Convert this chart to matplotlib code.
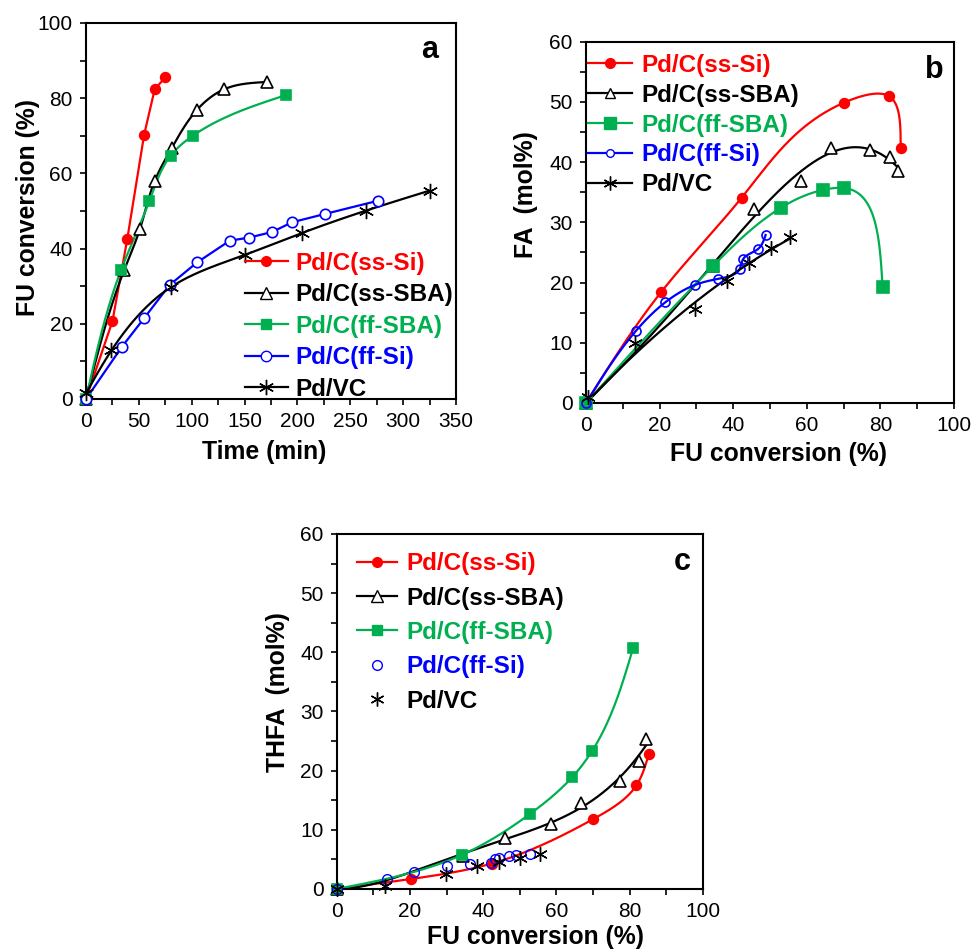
import numpy as np
import matplotlib.pyplot as plt
from matplotlib.lines import Line2D
from matplotlib.ticker import MultipleLocator

plt.rcParams['font.family'] = ['Liberation Sans', 'DejaVu Sans']

RED = '#ff0000'
BLACK = '#000000'
GREEN = '#00b050'
BLUE = '#0000ff'

labels = ['Pd/C(ss-Si)', 'Pd/C(ss-SBA)', 'Pd/C(ff-SBA)', 'Pd/C(ff-Si)', 'Pd/VC']

# (a) FU conversion (%) vs time (min)
a_ssSi_t = [0, 25, 39, 55, 65, 75]
a_ssSi_y = [0, 20.7, 42.5, 70.3, 82.4, 85.5]
a_ssSBA_t = [0, 36, 51, 65, 81, 105, 131, 171]
a_ssSBA_y = [0, 34.2, 45.2, 58.0, 66.7, 76.9, 82.4, 84.3]
a_ffSBA_t = [0, 33, 60, 80, 101, 189]
a_ffSBA_y = [0, 34.2, 52.7, 64.7, 70.0, 80.8]
a_ffSi_t = [0, 34, 55, 79, 105, 136, 154, 176, 195, 226, 276]
a_ffSi_y = [0, 13.9, 21.5, 30.3, 36.3, 42.1, 42.9, 44.4, 47.0, 49.2, 52.7]
a_vc_t = [0, 24, 80, 150, 204, 265, 325]
a_vc_y = [1.5, 12.9, 29.7, 38.3, 44.1, 50.1, 55.4]

# (b) FA (mol%) vs FU conversion (%)
b_ssSi_x = [0, 20.4, 42.3, 70.2, 82.2, 85.5]
b_ssSi_y = [0, 18.4, 34.1, 49.9, 51.0, 42.4]
b_ssSBA_x = [0, 34.6, 45.7, 58.4, 66.6, 77.2, 82.6, 84.9]
b_ssSBA_y = [0, 22.7, 32.2, 36.9, 42.4, 42.0, 40.8, 38.6]
b_ffSBA_x = [0, 34.6, 52.9, 64.5, 70.2, 80.6]
b_ffSBA_y = [0, 22.8, 32.4, 35.4, 35.7, 19.2]
b_ffSi_x = [0, 13.6, 21.5, 29.6, 35.8, 41.8, 42.7, 46.8, 48.8]
b_ffSi_y = [0, 12.0, 16.7, 19.6, 20.6, 22.3, 23.9, 25.6, 27.9]
b_vc_x = [0.5, 13.3, 29.6, 38.2, 44.4, 50.3, 55.4]
b_vc_y = [1.0, 9.9, 15.6, 20.3, 23.2, 25.7, 27.5]

# (c) THFA (mol%) vs FU conversion (%)
c_ssSi_x = [0, 20.4, 42.3, 70.0, 81.8, 85.2]
c_ssSi_y = [0, 1.7, 4.3, 11.8, 17.5, 22.8]
c_ssSBA_x = [0, 34.4, 45.9, 58.4, 66.8, 77.3, 82.5, 84.5]
c_ssSBA_y = [0, 5.5, 8.7, 11.0, 14.5, 18.3, 21.6, 25.4]
c_ffSBA_x = [0, 34.3, 52.8, 64.3, 69.8, 80.9]
c_ffSBA_y = [0, 5.8, 12.7, 18.9, 23.4, 40.7]
c_ffSi_x = [0, 13.8, 21.2, 30.0, 36.4, 42.0, 43.2, 44.4, 47.0, 48.9, 52.8]
c_ffSi_y = [0, 1.7, 2.9, 3.8, 4.2, 4.4, 5.0, 5.2, 5.5, 5.7, 5.9]
c_vc_x = [0, 13.2, 29.8, 38.2, 44.4, 50.0, 55.5]
c_vc_y = [0, 0.5, 2.6, 3.8, 4.6, 5.3, 5.9]


def natural_spline(t, v, tt):
    n = len(t)
    h = np.diff(t)
    A = np.zeros((n, n))
    r = np.zeros(n)
    A[0, 0] = A[-1, -1] = 1
    for i in range(1, n - 1):
        A[i, i - 1] = h[i - 1]
        A[i, i] = 2 * (h[i - 1] + h[i])
        A[i, i + 1] = h[i]
        r[i] = 6 * ((v[i + 1] - v[i]) / h[i] - (v[i] - v[i - 1]) / h[i - 1])
    M = np.linalg.solve(A, r)
    k = np.clip(np.searchsorted(t, tt) - 1, 0, n - 2)
    hk = h[k]
    a = t[k + 1] - tt
    b = tt - t[k]
    return ((M[k] * a ** 3 + M[k + 1] * b ** 3) / (6 * hk)
            + (v[k] / hk - M[k] * hk / 6) * a
            + (v[k + 1] / hk - M[k + 1] * hk / 6) * b)


def spline_curve(x, y, xr, yr, n=400):
    x = np.asarray(x, float)
    y = np.asarray(y, float)
    t = np.concatenate([[0], np.cumsum(np.hypot(np.diff(x) / xr, np.diff(y) / yr))])
    tt = np.linspace(0, t[-1], n)
    return natural_spline(t, x, tt), natural_spline(t, y, tt)


def fit_curve(x, y, powers, n=300):
    # least-squares polynomial through the origin, using the given powers
    x = np.asarray(x, float)
    s = x.max()
    X = np.column_stack([(x / s) ** p for p in powers])
    coef = np.linalg.lstsq(X, np.asarray(y, float), rcond=None)[0]
    xx = np.linspace(0, s, n)
    return xx, sum(c * (xx / s) ** p for p, c in zip(powers, coef))


def style_axes(ax, xmax, ymax, xmaj, xmin, ymaj, ymin):
    ax.set_xlim(0, xmax)
    ax.set_ylim(0, ymax)
    ax.xaxis.set_major_locator(MultipleLocator(xmaj))
    ax.xaxis.set_minor_locator(MultipleLocator(xmin))
    ax.yaxis.set_major_locator(MultipleLocator(ymaj))
    ax.yaxis.set_minor_locator(MultipleLocator(ymin))
    ax.tick_params(which='both', direction='out', length=4, width=1.2,
                   labelsize=15, top=False, right=False)
    ax.tick_params(axis='x', which='both', pad=5.2)
    ax.tick_params(axis='y', which='both', pad=5.5)
    for sp in ax.spines.values():
        sp.set_linewidth(1.5)


def set_labels(ax, xlabel, ylabel, xpos, ypos):
    ax.set_xlabel(xlabel, fontsize=17.8, fontweight='bold')
    ax.set_ylabel(ylabel, fontsize=17.8, fontweight='bold')
    ax.xaxis.set_label_coords(*xpos)
    ax.yaxis.set_label_coords(*ypos)


def marks(ax, x, y, color, marker, ms, face=None, mew=1.2):
    ax.plot(x, y, linestyle='none', marker=marker, ms=ms, color=color,
            mfc=color if face is None else face, mec=color, mew=mew,
            clip_on=False, zorder=4)


def add_legend(ax, handles, anchor, spacing, hlen, pad):
    leg = ax.legend(handles=handles, loc='upper left', bbox_to_anchor=anchor,
                    frameon=False, borderpad=0, borderaxespad=0,
                    labelspacing=spacing, handlelength=hlen, handletextpad=pad,
                    numpoints=1, prop={'weight': 'bold', 'size': 17.5})
    for txt, c in zip(leg.get_texts(), [RED, BLACK, GREEN, BLUE, BLACK]):
        txt.set_color(c)


STAR = (6, 2, 0)
lw = 1.6

fig = plt.figure(figsize=(9.71, 9.52), dpi=100)
ax_a = fig.add_axes([0.0886, 0.5809, 0.381, 0.395])
ax_b = fig.add_axes([0.6035, 0.5767, 0.379, 0.3795])
ax_c = fig.add_axes([0.3468, 0.0662, 0.3772, 0.3729])

# ---- panel a
ax = ax_a
ax.plot(a_ssSi_t, a_ssSi_y, color=RED, lw=lw)
ax.plot(*spline_curve(a_ssSBA_t, a_ssSBA_y, 350, 100), color=BLACK, lw=lw)
ax.plot(*spline_curve(a_ffSBA_t, a_ffSBA_y, 350, 100), color=GREEN, lw=lw)
ax.plot(a_ffSi_t, a_ffSi_y, color=BLUE, lw=lw)
ax.plot(*spline_curve(a_vc_t, a_vc_y, 350, 100), color=BLACK, lw=lw)
marks(ax, a_ssSi_t, a_ssSi_y, RED, 'o', 7)
marks(ax, a_ssSBA_t, a_ssSBA_y, BLACK, '^', 9, 'white')
marks(ax, a_ffSBA_t, a_ffSBA_y, GREEN, 's', 7.5)
marks(ax, a_ffSi_t, a_ffSi_y, BLUE, 'o', 7.5, 'white')
marks(ax, a_vc_t, a_vc_y, BLACK, STAR, 11, mew=1.0)
style_axes(ax, 350, 100, 50, 25, 20, 10)
set_labels(ax, 'Time (min)', 'FU conversion (%)', (0.481, -0.109), (-0.125, 0.51))
ax.text(0.93, 0.928, 'a', transform=ax.transAxes, fontsize=22, fontweight='bold',
        ha='center', va='center')
hs = [Line2D([], [], color=RED, lw=lw, marker='o', ms=7),
      Line2D([], [], color=BLACK, lw=lw, marker='^', ms=9, mfc='white'),
      Line2D([], [], color=GREEN, lw=lw, marker='s', ms=7),
      Line2D([], [], color=BLUE, lw=lw, marker='o', ms=7.5, mfc='white'),
      Line2D([], [], color=BLACK, lw=lw, marker=STAR, ms=11, mew=1.0)]
for h, lab in zip(hs, labels):
    h.set_label(lab)
add_legend(ax, hs, (0.43, 0.391), 0.35, 1.75, 0.33)

# ---- panel b
ax = ax_b
ax.plot(*spline_curve(b_ssSi_x, b_ssSi_y, 100, 60), color=RED, lw=lw)
ax.plot(*fit_curve(b_ssSBA_x, b_ssSBA_y, [1, 2, 3, 4]), color=BLACK, lw=lw)
ax.plot(*spline_curve(b_ffSBA_x, b_ffSBA_y, 100, 60), color=GREEN, lw=lw)
ax.plot(*spline_curve(b_ffSi_x, b_ffSi_y, 100, 60), color=BLUE, lw=lw)
ax.plot(*fit_curve(b_vc_x, b_vc_y, [1, 2]), color=BLACK, lw=lw)
marks(ax, b_ssSi_x, b_ssSi_y, RED, 'o', 7)
marks(ax, b_ssSBA_x, b_ssSBA_y, BLACK, '^', 8.5, 'white')
marks(ax, b_ffSBA_x, b_ffSBA_y, GREEN, 's', 9)
marks(ax, b_ffSi_x, b_ffSi_y, BLUE, 'o', 6.5, 'none')
marks(ax, b_vc_x, b_vc_y, BLACK, STAR, 10.5, mew=1.0)
style_axes(ax, 100, 60, 20, 10, 10, 5)
set_labels(ax, 'FU conversion (%)', 'FA  (mol%)', (0.522, -0.108), (-0.13, 0.576))
ax.text(0.946, 0.922, 'b', transform=ax.transAxes, fontsize=22, fontweight='bold',
        ha='center', va='center')
hs = [Line2D([], [], color=RED, lw=lw, marker='o', ms=7),
      Line2D([], [], color=BLACK, lw=lw, marker='^', ms=7.5, mfc='white'),
      Line2D([], [], color=GREEN, lw=lw, marker='s', ms=9),
      Line2D([], [], color=BLUE, lw=lw, marker='o', ms=5.5, mfc='white'),
      Line2D([], [], color=BLACK, lw=lw, marker=STAR, ms=10, mew=1.0)]
for h, lab in zip(hs, labels):
    h.set_label(lab)
add_legend(ax, hs, (0.005, 0.966), 0.28, 1.8, 0.4)

# ---- panel c
ax = ax_c
ax.plot(*spline_curve(c_ssSi_x, c_ssSi_y, 100, 60), color=RED, lw=lw)
ax.plot(*fit_curve(c_ssSBA_x, c_ssSBA_y, [2, 3, 4]), color=BLACK, lw=lw)
ax.plot(*spline_curve(c_ffSBA_x, c_ffSBA_y, 100, 60), color=GREEN, lw=lw)
marks(ax, c_ssSi_x, c_ssSi_y, RED, 'o', 7)
marks(ax, c_ssSBA_x, c_ssSBA_y, BLACK, '^', 8.5, 'white')
marks(ax, c_ffSBA_x, c_ffSBA_y, GREEN, 's', 7)
marks(ax, c_ffSi_x, c_ffSi_y, BLUE, 'o', 7, 'none', mew=1.0)
marks(ax, c_vc_x, c_vc_y, BLACK, STAR, 10.5, mew=1.0)
style_axes(ax, 100, 60, 20, 10, 10, 5)
set_labels(ax, 'FU conversion (%)', 'THFA  (mol%)', (0.544, -0.101), (-0.1275, 0.555))
ax.text(0.943, 0.921, 'c', transform=ax.transAxes, fontsize=22, fontweight='bold',
        ha='center', va='center')
hs = [Line2D([], [], color=RED, lw=lw, marker='o', ms=7),
      Line2D([], [], color=BLACK, lw=lw, marker='^', ms=8, mfc='white'),
      Line2D([], [], color=GREEN, lw=lw, marker='s', ms=7),
      Line2D([], [], color=BLUE, ls='none', marker='o', ms=7, mfc='white', mew=1.0),
      Line2D([], [], color=BLACK, ls='none', marker=STAR, ms=10, mew=1.0)]
for h, lab in zip(hs, labels):
    h.set_label(lab)
add_legend(ax, hs, (0.055, 0.949), 0.47, 1.65, 0.37)

fig.savefig('out.png', dpi=100)
